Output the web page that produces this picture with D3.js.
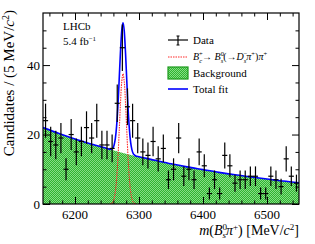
<!DOCTYPE html>
<html>
<head>
<meta charset="utf-8">
<script src="https://cdn.jsdelivr.net/npm/d3@7"></script>
<style>
  body { margin: 0; background: #fff; }
  text { font-family: "Liberation Serif", "DejaVu Serif", serif; fill: #000; }
</style>
</head>
<body>
<svg id="chart"></svg>
<script>
/** * * * * CONSTANTS * * * */
const width = 315;
const height = 244;
const margin = {top: 13, right: 16, bottom: 40, left: 43};

// data: candidates per bin, bins of 8 MeV from 6150 to 6550
const binWidth = 8;
const binStart = d3.range(6150, 6550, binWidth);
const counts = [24, 18, 17, 19, 10, 20, 15, 18, 22, 19,
                24, 17, 17, 16, 29, 45, 28, 24, 19, 15,
                14, 18, 13, 16, 7, 10, 19, 8, 10, 7,
                15, 11, 3, 7, 3, 14, 11, 6, 7, 7,
                8, 8, 3, 3, 8, 7, 5, 13, 8, 6];

// background fit
const bgMass = [6150, 6175, 6200, 6225, 6250, 6275, 6300, 6325, 6350,
                6375, 6400, 6425, 6450, 6475, 6500, 6525, 6550];
const bgFit = [22.0, 20.3, 18.7, 17.3, 16.0, 14.7, 13.6, 12.6, 11.6,
               10.7, 9.9, 9.1, 8.4, 7.8, 7.2, 6.6, 6.1];

// signal component
const sigMass = [6255, 6257, 6259, 6261, 6263, 6265, 6267, 6269, 6271, 6273, 6275,
                 6277, 6279, 6281, 6283, 6285, 6287, 6289, 6291, 6293, 6295];
const sigFit = [0, 0.2, 0.5, 1.5, 3.5, 7.2, 13.0, 20.7, 28.8, 35.1, 37.5,
                35.1, 28.8, 20.7, 13.0, 7.2, 3.5, 1.5, 0.5, 0.2, 0];

const xTicks = [6200, 6300, 6400, 6500];
const yTicks = [0, 20, 40];

const svg = d3.select('#chart')
  .attr('width', width)
  .attr('height', height);

const x = d3.scaleLinear()
  .domain([6150, 6550])
  .range([margin.left, width - margin.right]);

const y = d3.scaleLinear()
  .domain([0, 55])
  .range([height - margin.bottom, margin.top]);

// pattern for the background fill
const defs = svg.append('defs');
const pat = defs.append('pattern')
  .attr('id', 'bgpat')
  .attr('width', 2).attr('height', 2)
  .attr('patternUnits', 'userSpaceOnUse');
pat.append('rect').attr('width', 2).attr('height', 2).attr('fill', '#2fb52f');
pat.append('rect').attr('width', 1).attr('height', 1).attr('fill', '#86dc86');
pat.append('rect').attr('x', 1).attr('y', 1).attr('width', 1).attr('height', 1).attr('fill', '#86dc86');

defs.append('clipPath').attr('id', 'plotclip')
  .append('rect')
  .attr('x', margin.left).attr('y', margin.top)
  .attr('width', width - margin.left - margin.right)
  .attr('height', height - margin.top - margin.bottom);

const plot = svg.append('g').attr('clip-path', 'url(#plotclip)');

// background area
const bgPts = bgMass.map((m, i) => [m, bgFit[i]]);
plot.append('path')
  .datum(bgPts)
  .attr('d', d3.area()
    .x(d => x(d[0]))
    .y0(y(0))
    .y1(d => y(d[1]))
    .curve(d3.curveMonotoneX))
  .attr('fill', 'url(#bgpat)');

// signal (red dashed)
const sigPts = sigMass.map((m, i) => [m, sigFit[i]]);
plot.append('path')
  .datum(sigPts)
  .attr('d', d3.line()
    .x(d => x(d[0]))
    .y(d => y(d[1]))
    .curve(d3.curveCatmullRom))
  .attr('fill', 'none')
  .attr('stroke', '#ff2a2a')
  .attr('stroke-width', 1.1)
  .attr('stroke-dasharray', '1.5,1');

// total fit = background + signal
const bgAt = d3.scaleLinear().domain(bgMass).range(bgFit);
const sigAt = d3.scaleLinear().domain(sigMass).range(sigFit).clamp(true);
const totMass = Array.from(new Set(bgMass.concat(sigMass))).sort((a, b) => a - b);
const totPts = totMass.map(m => [m, bgAt(m) + sigAt(m)]);
plot.append('path')
  .datum(totPts)
  .attr('d', d3.line()
    .x(d => x(d[0]))
    .y(d => y(d[1]))
    .curve(d3.curveMonotoneX))
  .attr('fill', 'none')
  .attr('stroke', '#0000ff')
  .attr('stroke-width', 1.6);

// data points
const data = binStart.map((lo, i) => ({lo: lo, hi: lo + binWidth, n: counts[i]}));
const pts = plot.append('g').attr('stroke', '#000').attr('stroke-width', 1.2);
pts.selectAll('.h').data(data).enter().append('line')
  .attr('x1', d => x(d.lo)).attr('x2', d => x(d.hi))
  .attr('y1', d => y(d.n)).attr('y2', d => y(d.n));
pts.selectAll('.v').data(data).enter().append('line')
  .attr('x1', d => x(d.lo + binWidth / 2)).attr('x2', d => x(d.lo + binWidth / 2))
  .attr('y1', d => y(d.n + Math.sqrt(d.n))).attr('y2', d => y(Math.max(0, d.n - Math.sqrt(d.n))));

// frame and ticks
const xMinor = d3.range(6160, 6550, 20).filter(v => xTicks.indexOf(v) < 0);
const yMinor = d3.range(5, 55, 5).filter(v => yTicks.indexOf(v) < 0);

function tickAxis(axisFn, scale, vals, size, tr) {
  const g = svg.append('g')
    .attr('transform', tr)
    .call(axisFn(scale).tickValues(vals).tickSize(-size).tickFormat(''));
  g.select('.domain').remove();
  g.selectAll('line').attr('stroke', '#000').attr('stroke-width', 1);
  return g;
}
const bottomY = height - margin.bottom;
const rightX = width - margin.right;
tickAxis(d3.axisBottom, x, xTicks, 7, `translate(0,${bottomY})`);
tickAxis(d3.axisBottom, x, xMinor, 3.5, `translate(0,${bottomY})`);
tickAxis(d3.axisTop, x, xTicks, 7, `translate(0,${margin.top})`);
tickAxis(d3.axisTop, x, xMinor, 3.5, `translate(0,${margin.top})`);
tickAxis(d3.axisLeft, y, yTicks, 7, `translate(${margin.left},0)`);
tickAxis(d3.axisLeft, y, yMinor, 3.5, `translate(${margin.left},0)`);
tickAxis(d3.axisRight, y, yTicks, 7, `translate(${rightX},0)`);
tickAxis(d3.axisRight, y, yMinor, 3.5, `translate(${rightX},0)`);

svg.append('rect')
  .attr('x', margin.left).attr('y', margin.top)
  .attr('width', rightX - margin.left)
  .attr('height', bottomY - margin.top)
  .attr('fill', 'none')
  .attr('stroke', '#000')
  .attr('stroke-width', 1.2);

// tick labels
svg.selectAll('.xl').data(xTicks).enter().append('text')
  .attr('x', d => x(d)).attr('y', bottomY + 15)
  .attr('text-anchor', 'middle')
  .style('font-size', '13px')
  .text(d => d);
svg.selectAll('.yl').data(yTicks).enter().append('text')
  .attr('x', margin.left - 3).attr('y', d => y(d) + 4.5)
  .attr('text-anchor', 'end')
  .style('font-size', '13px')
  .text(d => d);

// axis titles
const xt = svg.append('text')
  .attr('x', rightX).attr('y', 235)
  .attr('text-anchor', 'end')
  .style('font-size', '14px');
xt.append('tspan').style('font-style', 'italic').text('m');
xt.append('tspan').text('(');
xt.append('tspan').style('font-style', 'italic').text('B');
xt.append('tspan').attr('dy', -5).style('font-size', '9px').text('0');
xt.append('tspan').attr('dx', -4.5).attr('dy', 8).style('font-size', '9px').style('font-style', 'italic').text('s');
xt.append('tspan').attr('dy', -3).style('font-style', 'italic').text('π');
xt.append('tspan').attr('dy', -5).style('font-size', '9px').text('+');
xt.append('tspan').attr('dy', 5).text(') [MeV/');
xt.append('tspan').style('font-style', 'italic').text('c');
xt.append('tspan').attr('dy', -5).style('font-size', '9px').text('2');
xt.append('tspan').attr('dy', 5).text(']');

const yt = svg.append('text')
  .attr('transform', 'translate(14,10) rotate(-90)')
  .attr('text-anchor', 'end')
  .style('font-size', '15px');
yt.append('tspan').text('Candidates / (5 MeV/');
yt.append('tspan').style('font-style', 'italic').text('c');
yt.append('tspan').attr('dy', -5).style('font-size', '10px').text('2');
yt.append('tspan').attr('dy', 5).text(')');

// LHCb label
svg.append('text').attr('x', 63).attr('y', 30).style('font-size', '11px').text('LHCb');
const lum = svg.append('text').attr('x', 63).attr('y', 45).style('font-size', '11px');
lum.append('tspan').text('5.4 fb');
lum.append('tspan').attr('dy', -4).style('font-size', '7px').text('−1');

// legend
const lx = 168, lw = 20, tx = 193;
const leg = svg.append('g');
leg.append('line').attr('x1', lx).attr('x2', lx + lw).attr('y1', 40).attr('y2', 40)
  .attr('stroke', '#000').attr('stroke-width', 1.2);
leg.append('line').attr('x1', lx + lw / 2).attr('x2', lx + lw / 2).attr('y1', 36).attr('y2', 45)
  .attr('stroke', '#000').attr('stroke-width', 1.2);
leg.append('line').attr('x1', lx + lw / 2 - 1.5).attr('x2', lx + lw / 2 + 1.5).attr('y1', 36).attr('y2', 36)
  .attr('stroke', '#000').attr('stroke-width', 1);
leg.append('line').attr('x1', lx + lw / 2 - 1.5).attr('x2', lx + lw / 2 + 1.5).attr('y1', 45).attr('y2', 45)
  .attr('stroke', '#000').attr('stroke-width', 1);
leg.append('text').attr('x', tx).attr('y', 44).style('font-size', '11px').text('Data');

leg.append('line').attr('x1', lx).attr('x2', lx + lw).attr('y1', 57).attr('y2', 57)
  .attr('stroke', '#ff2a2a').attr('stroke-width', 1.1).attr('stroke-dasharray', '1.5,1');
const st = leg.append('text').attr('x', tx).attr('y', 60).style('font-size', '10px');
st.append('tspan').style('font-style', 'italic').text('B');
st.append('tspan').attr('dy', -4).style('font-size', '6.5px').text('+');
st.append('tspan').attr('dx', -3.6).attr('dy', 6.5).style('font-size', '6.5px').style('font-style', 'italic').text('c');
st.append('tspan').attr('dy', -2.5).text('→ ');
st.append('tspan').style('font-style', 'italic').text('B');
st.append('tspan').attr('dy', -4).style('font-size', '6.5px').text('0');
st.append('tspan').attr('dx', -3.3).attr('dy', 6.5).style('font-size', '6.5px').style('font-style', 'italic').text('s');
st.append('tspan').attr('dy', -2.5).text('(→');
st.append('tspan').style('font-style', 'italic').text('D');
st.append('tspan').attr('dy', -4).style('font-size', '6.5px').text('−');
st.append('tspan').attr('dx', -3.6).attr('dy', 6.5).style('font-size', '6.5px').style('font-style', 'italic').text('s');
st.append('tspan').attr('dy', -2.5).style('font-style', 'italic').text('π');
st.append('tspan').attr('dy', -4).style('font-size', '6.5px').text('+');
st.append('tspan').attr('dy', 4).text(')');
st.append('tspan').style('font-style', 'italic').text('π');
st.append('tspan').attr('dy', -4).style('font-size', '6.5px').text('+');

leg.append('rect').attr('x', lx).attr('y', 67).attr('width', lw).attr('height', 12)
  .attr('fill', 'url(#bgpat)').attr('stroke', '#1c9a1c').attr('stroke-width', 1.2);
leg.append('text').attr('x', tx).attr('y', 77).style('font-size', '11px').text('Background');

leg.append('line').attr('x1', lx).attr('x2', lx + lw).attr('y1', 89).attr('y2', 89)
  .attr('stroke', '#0000ff').attr('stroke-width', 1.6);
leg.append('text').attr('x', tx).attr('y', 93).style('font-size', '11px').text('Total fit');
</script>
</body>
</html>
